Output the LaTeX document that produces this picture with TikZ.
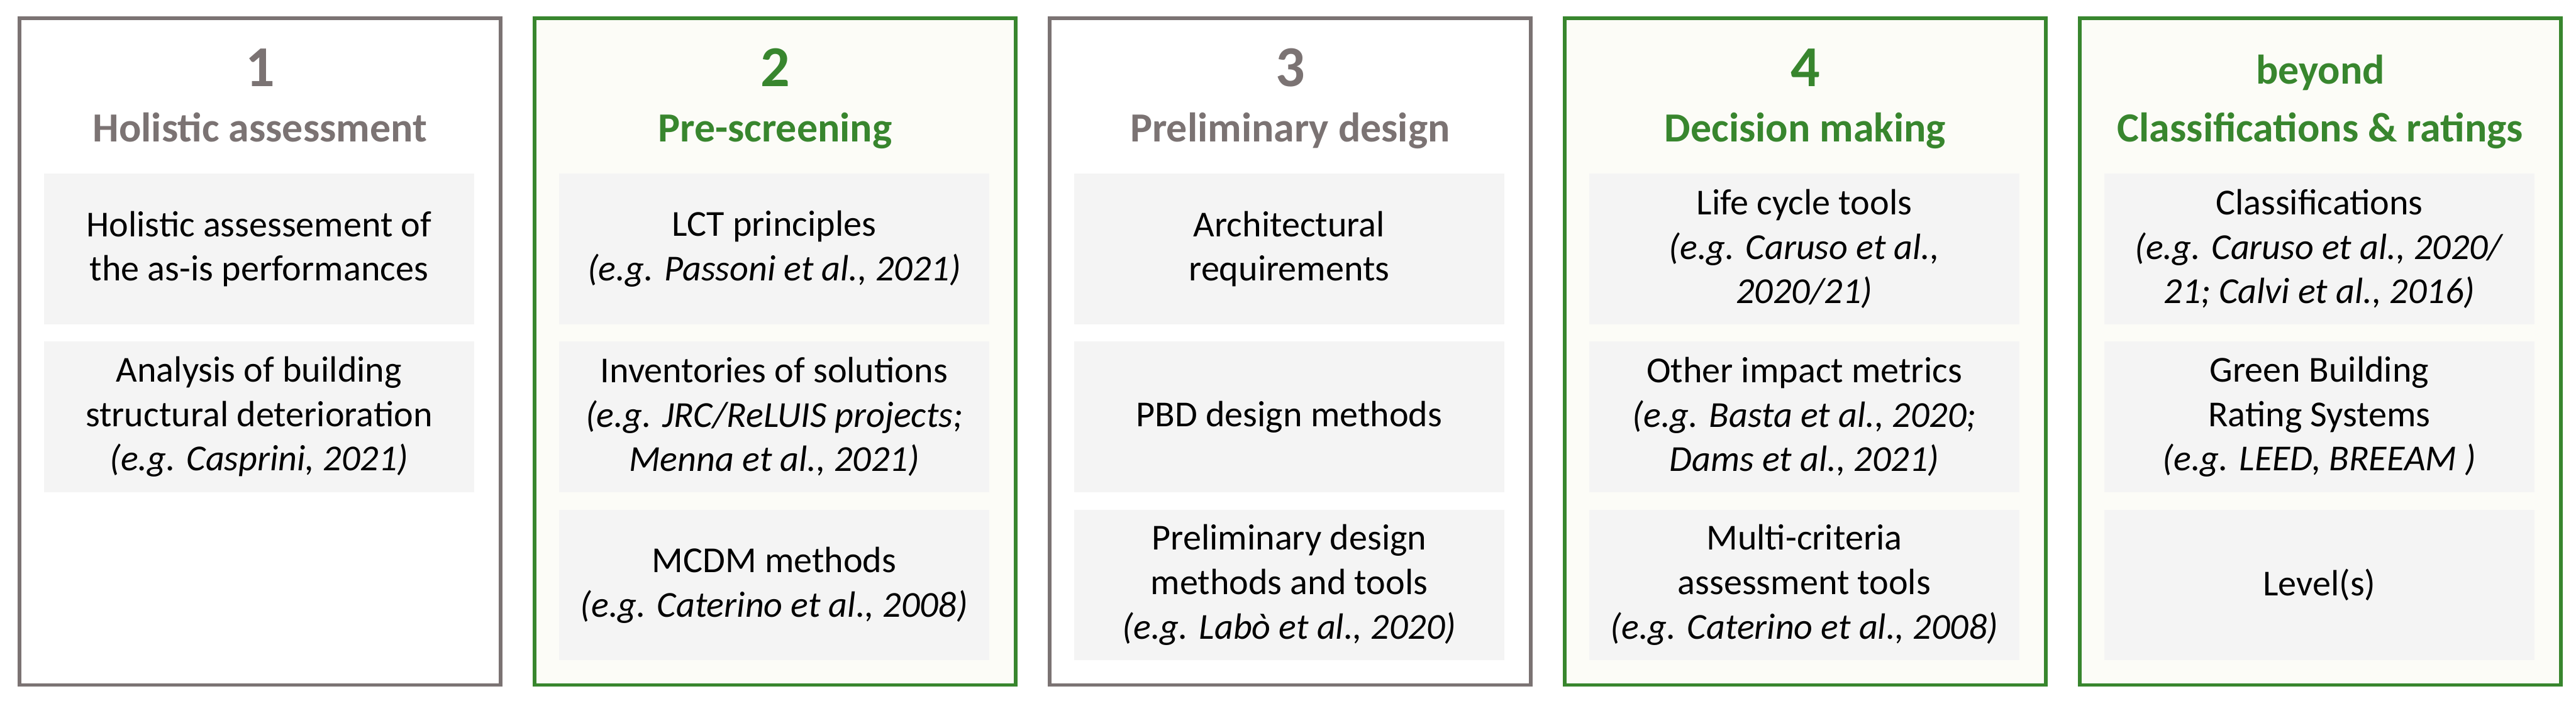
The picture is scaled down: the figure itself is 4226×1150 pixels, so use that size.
\documentclass[tikz,border=0pt]{standalone}
\usepackage{fontspec}
\setmainfont{Carlito}
\definecolor{framegray}{HTML}{7B7373}
\definecolor{framegreen}{HTML}{38862E}
\definecolor{cellgray}{HTML}{F4F4F4}
\definecolor{creamfill}{HTML}{FCFCF7}
\begin{document}
\begin{tikzpicture}[x=0.2pt, y=-0.2pt,
    phasebox/.style={line width=1.2pt, minimum width=157.8pt, minimum height=218.8pt, inner sep=0pt},
    grayphase/.style={phasebox, draw=framegray, fill=white},
    greenphase/.style={phasebox, draw=framegreen, fill=creamfill},
    cell/.style={fill=cellgray, minimum width=141.2pt, minimum height=49.4pt, inner sep=0pt,
        align=center, font=\fontsize{12}{14.6}\selectfont},
    phasenum/.style={anchor=base, font=\fontsize{19}{22}\selectfont\bfseries},
    phasetitle/.style={anchor=base, font=\fontsize{13.6}{16}\selectfont\bfseries}]

    % Fix the canvas
    \useasboundingbox (0,0) rectangle (4226,1150);

    % Draw the five phase frames
    \node[grayphase]  (phase1) at (426.5,577) {};
    \node[greenphase] (phase2) at (1271.5,577) {};
    \node[grayphase]  (phase3) at (2116.5,577) {};
    \node[greenphase] (phase4) at (2961.5,577) {};
    \node[greenphase] (phase5) at (3806.5,577) {};

    % Headers
    \node[phasenum, framegray]    (num1) at (426.5,142) {1};
    \node[phasetitle, framegray]  (title1) at (426.5,233) {Holistic assessment};
    \node[phasenum, framegreen]   (num2) at (1271.5,142) {2};
    \node[phasetitle, framegreen] (title2) at (1271.5,233) {Pre-screening};
    \node[phasenum, framegray]    (num3) at (2116.5,142) {3};
    \node[phasetitle, framegray]  (title3) at (2116.5,233) {Preliminary design};
    \node[phasenum, framegreen]   (num4) at (2961.5,142) {4};
    \node[phasetitle, framegreen] (title4) at (2961.5,233) {Decision making};
    \node[phasetitle, framegreen] (num5) at (3806.5,138) {beyond};
    \node[phasetitle, framegreen] (title5) at (3806.5,233) {Classifications \& ratings};

    % Phase 1 cells
    \node[cell] (holistic) at (425,408.5) {Holistic assessement of\\the as-is performances};
    \node[cell] (deterioration) at (425,684) {Analysis of building\\structural deterioration\\\textit{(e.g. Casprini, 2021)}};

    % Phase 2 cells
    \node[cell] (lct) at (1270,408.5) {LCT principles\\\textit{(e.g. Passoni et al., 2021)}};
    \node[cell] (inventories) at (1270,684) {Inventories of solutions\\\textit{(e.g. JRC/ReLUIS projects;}\\\textit{Menna et al., 2021)}};
    \node[cell] (mcdm) at (1270,960) {MCDM methods\\\textit{(e.g. Caterino et al., 2008)}};

    % Phase 3 cells
    \node[cell] (architectural) at (2115,408.5) {Architectural\\requirements};
    \node[cell] (pbd) at (2115,684) {PBD design methods};
    \node[cell] (preliminary) at (2115,960) {Preliminary design\\methods and tools\\\textit{(e.g. Labò et al., 2020)}};

    % Phase 4 cells
    \node[cell] (lifecycle) at (2960,408.5) {Life cycle tools\\\textit{(e.g. Caruso et al.,}\\\textit{2020/21)}};
    \node[cell] (impact) at (2960,684) {Other impact metrics\\\textit{(e.g. Basta et al., 2020;}\\\textit{Dams et al., 2021)}};
    \node[cell] (multicriteria) at (2960,960) {Multi-criteria\\assessment tools\\\textit{(e.g. Caterino et al., 2008)}};

    % Beyond cells
    \node[cell] (classifications) at (3805,408.5) {Classifications\\\textit{(e.g. Caruso et al., 2020/}\\\textit{21; Calvi et al., 2016)}};
    \node[cell] (gbrs) at (3805,684) {Green Building\\Rating Systems\\\textit{(e.g. LEED, BREEAM )}};
    \node[cell] (levels) at (3805,960) {Level(s)};
\end{tikzpicture}
\end{document}
